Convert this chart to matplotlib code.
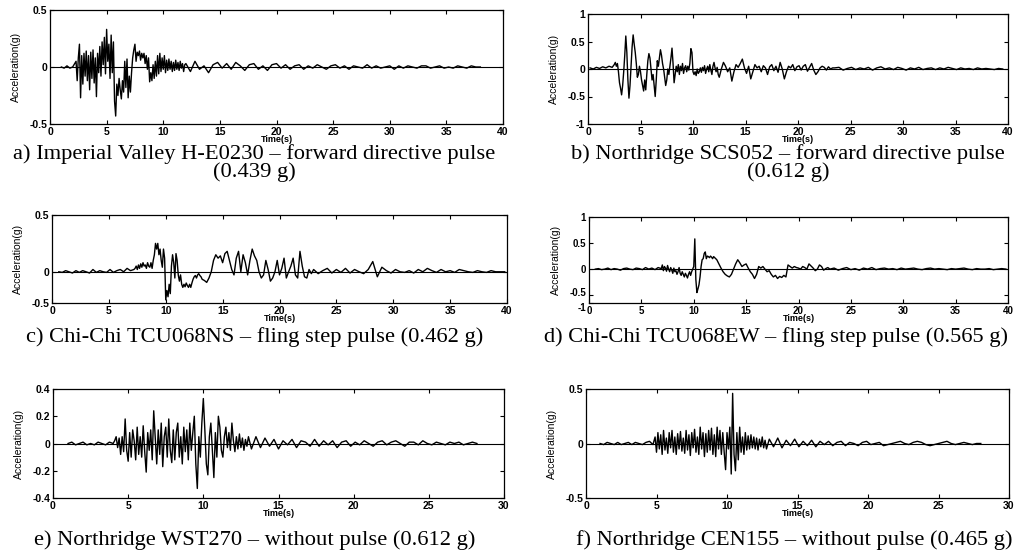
import matplotlib
matplotlib.use("Agg")
import matplotlib.pyplot as plt
import matplotlib.transforms as mtransforms
import numpy as np
from matplotlib.ticker import FuncFormatter

# ---- data read from the reference (acceleration in g), sampled in segments ----
# each record: start times and steps of the segments, then the segment values

# a) Imperial Valley H-E0230
a_t0 = [1.0, 2.3, 12.0]
a_dt = [0.25, 0.1, 0.4]
a_pre = [0.0, -0.01, 0.01, -0.01, 0.0]
a_strong = [0.05, -0.12, 0.08, 0.20, -0.27, 0.10, -0.15, 0.12, -0.08, 0.14,
            -0.12, 0.10, -0.20, 0.13, -0.10, 0.15, -0.14, 0.08, -0.26, 0.12,
            -0.05, 0.18, -0.08, 0.22, 0.02, 0.26, -0.06, 0.33, 0.05, 0.20,
            -0.10, 0.28, -0.05, 0.22, -0.30, -0.43, -0.15, -0.25, -0.10, -0.20,
            -0.28, -0.12, -0.22, 0.05, -0.18, 0.07, -0.27, -0.08, -0.22, -0.05,
            0.08, 0.15, 0.20, 0.05, 0.13, 0.10, 0.14, 0.06, 0.12, 0.08,
            0.12, 0.03, 0.10, -0.02, 0.08, -0.13, -0.05, -0.12, 0.02, -0.10,
            0.05, -0.08, 0.10, -0.06, 0.12, -0.04, 0.08, -0.02, 0.10, -0.05,
            0.06, -0.03, 0.07, -0.02, 0.05, -0.04, 0.04, -0.03, 0.06, -0.02,
            0.04, -0.03, 0.05, -0.01, 0.03, -0.04, 0.02]
a_tail = [0.03, -0.04, 0.05, -0.02, 0.01, -0.05, 0.02, 0.04, -0.01, 0.03,
          -0.02, 0.04, 0.01, -0.03, 0.02, 0.03, -0.02, 0.01, -0.03, 0.02,
          0.03, -0.01, 0.02, -0.02, 0.01, 0.02, -0.02, 0.01, -0.01, 0.02,
          0.00, -0.02, 0.01, 0.02, -0.01, 0.01, -0.02, 0.01, 0.00, -0.01,
          0.02, -0.01, 0.01, -0.01, 0.00, 0.01, -0.02, 0.01, -0.01, 0.01,
          0.00, -0.01, 0.01, 0.01, -0.01, 0.00, 0.01, -0.01, 0.00, -0.01,
          0.01, 0.00, -0.01, 0.01, 0.00, 0.00]

# b) Northridge SCS052
b_t0 = [0.2, 2.5, 12.5, 23.5]
b_dt = [0.3, 0.1, 0.2, 0.4]
b_pre = [0.02, 0.0, 0.03, 0.01, 0.04, 0.02, 0.05, 0.03]
b_strong = [0.08, 0.12, 0.05, 0.10, -0.05, -0.25, -0.35, -0.47, -0.30, -0.05,
            0.25, 0.60, 0.30, -0.20, -0.53, -0.30, 0.05, 0.40, 0.62, 0.45,
            0.30, 0.10, -0.15, -0.10, 0.05, -0.05, -0.20, -0.30, -0.40, -0.20,
            -0.38, -0.10, 0.15, 0.28, 0.20, 0.00, -0.20, -0.10, -0.30, -0.50,
            -0.20, 0.15, 0.05, 0.20, 0.35, 0.25, 0.10, 0.00, -0.15, -0.30,
            -0.20, 0.00, -0.10, 0.05, 0.20, 0.38, 0.10, -0.25, -0.10, 0.05,
            -0.05, 0.08, -0.10, 0.05, -0.03, 0.10, -0.08, 0.02, 0.06, -0.05,
            0.05, -0.02, 0.10, 0.37, 0.30, -0.05, -0.10, -0.05, -0.12, 0.00,
            -0.08, -0.05, 0.02, -0.06, 0.03, -0.03, 0.06, -0.08, 0.00, 0.05,
            -0.05, 0.08, -0.02, -0.10, 0.05, 0.12, 0.02, -0.05, 0.03, -0.10]
b_mid = [-0.15, 0.00, 0.12, 0.05, -0.05, 0.02, -0.22, -0.05, 0.08, 0.03,
         0.10, 0.18, 0.02, -0.08, 0.05, -0.18, -0.05, 0.08, 0.02, 0.05,
         -0.05, 0.06, 0.02, -0.10, 0.04, 0.08, -0.03, 0.05, -0.06, 0.12,
         0.00, -0.18, -0.05, 0.05, 0.02, 0.08, -0.03, 0.04, 0.06, -0.02,
         0.05, 0.08, -0.04, 0.03, 0.10, -0.02, -0.10, -0.05, 0.02, 0.05,
         0.03, -0.02, 0.04, 0.00, 0.02]
b_tail = [0.02, 0.03, -0.02, 0.01, 0.03, -0.01, 0.02, 0.00, 0.03, -0.02,
          0.02, 0.04, 0.00, 0.02, -0.01, 0.03, 0.01, -0.02, 0.02, 0.00,
          0.03, -0.01, 0.01, 0.02, -0.01, 0.02, 0.00, 0.03, 0.01, -0.01,
          0.02, 0.00, 0.01, -0.01, 0.02, 0.00, 0.01, 0.00, -0.01, 0.01, 0.00]

# c) Chi-Chi TCU068NS
c_t0 = [0.6, 7.3, 13.4, 23.0]
c_dt = [0.3, 0.1, 0.2, 0.4]
c_pre = [0.0, -0.01, 0.01, 0.0, -0.02, 0.01, -0.01, 0.01, 0.0, -0.02, 0.02, -0.01,
         0.01, 0.0, -0.01, 0.02, -0.01, 0.01, 0.02, 0.0, 0.03, 0.01, 0.02]
c_strong = [0.03, 0.05, 0.02, 0.06, 0.03, 0.07, 0.04, 0.08, 0.05, 0.06,
            0.03, 0.08, 0.05, 0.04, 0.08, 0.03, 0.10, 0.15, 0.25, 0.20,
            0.25, 0.15, 0.20, 0.10, 0.04, 0.20, 0.12, -0.45, -0.30, -0.40,
            -0.20, -0.35, 0.05, 0.15, 0.08, -0.10, 0.16, 0.10, -0.05, -0.15,
            -0.05, -0.20, -0.25, -0.20, -0.24, -0.18, -0.22, -0.25, -0.20, -0.25,
            -0.18, -0.12, -0.08, -0.06, -0.10, -0.05, -0.03, -0.06, -0.08, -0.12]
c_mid = [-0.14, -0.17, -0.10, 0.00, 0.10, 0.15, 0.12, 0.14, 0.08, 0.16,
         0.18, 0.10, 0.02, -0.05, 0.12, 0.18, 0.00, 0.15, 0.08, -0.05,
         0.10, 0.20, 0.14, 0.10, 0.00, -0.10, -0.05, 0.10, 0.02, -0.15,
         -0.10, 0.00, 0.10, -0.05, 0.03, 0.12, -0.10, 0.00, 0.05, 0.12,
         -0.05, -0.10, 0.18, 0.05, -0.08, -0.10, 0.02, -0.03]
c_tail = [0.02, -0.03, 0.01, 0.03, -0.02, 0.02, -0.01, 0.03, -0.02, 0.02,
          0.00, -0.03, 0.02, 0.09, -0.08, 0.04, 0.01, -0.02, 0.02, 0.00,
          -0.01, 0.01, -0.02, 0.02, 0.00, 0.03, 0.01, -0.01, 0.02, 0.00,
          0.01, -0.01, 0.02, 0.01, 0.00, -0.01, 0.01, 0.00, -0.01, 0.01,
          0.00, 0.00, 0.00]

# d) Chi-Chi TCU068EW
d_t0 = [0.6, 7.0, 12.0, 23.0]
d_dt = [0.3, 0.1, 0.2, 0.4]
d_pre = [0.0, 0.01, -0.01, 0.0, 0.02, -0.01, 0.01, 0.0, -0.02, 0.01, 0.02,
         0.0, -0.01, 0.02, 0.01, -0.01, 0.03, 0.0, 0.02, -0.01, 0.03, 0.01]
d_strong = [0.08, -0.03, 0.05, 0.02, -0.04, 0.07, 0.00, -0.05, 0.03, -0.02,
            -0.08, 0.02, -0.05, -0.03, -0.10, -0.05, 0.03, -0.08, -0.12, -0.05,
            -0.10, -0.15, -0.08, -0.12, -0.17, -0.10, -0.05, -0.12, -0.05, 0.00,
            0.05, 0.58, -0.20, -0.45, -0.38, -0.30, -0.15, 0.05, 0.18, 0.20,
            0.30, 0.33, 0.20, 0.25, 0.24, 0.22, 0.25, 0.23, 0.20, 0.24]
d_mid = [0.22, 0.18, 0.10, 0.02, -0.05, -0.10, -0.13, -0.15, -0.10, 0.00,
         0.10, 0.18, 0.12, 0.05, 0.08, 0.10, 0.02, -0.05, -0.10, -0.18,
         -0.10, 0.05, 0.02, 0.05, 0.00, -0.05, -0.03, -0.10, -0.15, -0.12,
         -0.18, -0.14, -0.16, -0.12, -0.15, 0.08, 0.05, 0.02, 0.05, 0.03,
         0.02, 0.00, 0.05, 0.03, 0.00, 0.10, 0.06, 0.02, -0.03, 0.00,
         0.08, 0.05, -0.02, 0.01, 0.03]
d_tail = [0.00, 0.02, -0.02, 0.01, 0.03, -0.01, 0.01, -0.02, 0.02, 0.00,
          0.03, -0.01, 0.01, 0.02, 0.00, 0.01, -0.01, 0.02, 0.00, 0.01,
          0.02, 0.00, -0.01, 0.01, 0.02, 0.00, 0.01, 0.00, -0.01, 0.01,
          0.00, 0.01, 0.02, 0.00, -0.01, 0.01, 0.00, 0.00, 0.01, -0.01,
          0.00, 0.01, 0.00]

# e) Northridge WST270
e_t0 = [1.0, 4.1, 13.2]
e_dt = [0.25, 0.1, 0.3]
e_pre = [0.0, 0.01, -0.01, 0.0, 0.01, -0.01, 0.0, -0.01, 0.01, 0.0, -0.01, 0.01, 0.0]
e_strong = [0.02, 0.05, -0.03, 0.04, -0.08, 0.05, -0.06, 0.18, -0.05, -0.13,
            0.08, -0.10, 0.10, 0.02, -0.12, 0.12, -0.08, 0.05, -0.10, 0.13,
            -0.06, -0.21, 0.08, -0.05, 0.10, -0.12, 0.24, 0.05, -0.15, 0.10,
            -0.08, 0.15, -0.17, 0.05, 0.12, -0.10, 0.18, -0.05, -0.14, 0.10,
            -0.12, 0.08, 0.15, -0.10, 0.05, -0.15, 0.12, -0.06, 0.10, -0.12,
            0.15, -0.05, 0.08, 0.20, -0.15, -0.33, 0.05, -0.10, 0.15, 0.33,
            0.10, -0.15, -0.23, 0.05, 0.15, -0.05, -0.25, 0.08, -0.10, 0.20,
            0.12, -0.05, -0.10, 0.05, 0.12, -0.03, 0.08, -0.05, 0.15, 0.02,
            -0.06, 0.05, -0.04, 0.07, -0.03, 0.04, -0.05, 0.03, -0.02, 0.05]
e_tail = [-0.04, 0.05, -0.03, 0.04, -0.02, 0.03, -0.04, 0.02, -0.01, 0.03,
          -0.03, 0.02, 0.01, -0.02, 0.03, -0.02, 0.02, -0.01, 0.02, -0.03,
          0.01, 0.02, -0.02, 0.01, -0.01, 0.02, 0.00, -0.02, 0.01, 0.02,
          -0.01, 0.01, 0.02, 0.00, -0.02, 0.01, 0.01, -0.01, 0.02, 0.00,
          -0.01, 0.01, 0.00, -0.01, 0.01, 0.00, 0.01, -0.01, 0.00, 0.01, 0.00]

# f) Northridge CEN155
f_t0 = [1.0, 4.9, 13.0]
f_dt = [0.25, 0.1, 0.3]
f_pre = [0.0, -0.01, 0.01, 0.0, -0.01, 0.01, -0.01, 0.0, 0.01, -0.01, 0.01,
         0.0, -0.01, 0.01, 0.02, -0.01]
f_strong = [0.06, -0.08, 0.10, -0.05, 0.08, -0.10, 0.12, -0.06, 0.05, -0.09,
            0.10, -0.04, 0.12, -0.08, 0.06, -0.10, 0.09, -0.05, 0.11, -0.07,
            0.05, -0.09, 0.12, -0.06, 0.08, -0.11, 0.10, -0.04, 0.13, -0.08,
            0.06, -0.10, 0.15, -0.05, 0.10, -0.12, 0.09, -0.08, 0.12, -0.06,
            0.14, -0.10, 0.08, -0.12, 0.15, -0.05, 0.12, -0.10, 0.10, -0.08,
            -0.24, 0.10, -0.05, 0.15, -0.28, 0.46, -0.10, -0.25, 0.10, -0.15,
            0.15, -0.08, 0.06, -0.10, 0.10, -0.06, 0.07, -0.05, 0.08, -0.04,
            0.06, -0.05, 0.05, -0.06, 0.04, -0.03, 0.06, -0.04, 0.03, -0.05]
f_tail = [0.04, -0.03, 0.05, -0.04, 0.03, -0.02, 0.04, -0.03, 0.02, -0.02,
          0.03, -0.03, 0.02, -0.01, 0.02, -0.02, 0.01, 0.02, -0.02, 0.01,
          0.00, -0.02, 0.01, 0.02, -0.01, 0.00, 0.01, -0.02, -0.01, 0.00,
          0.01, 0.02, 0.00, -0.01, 0.01, 0.02, 0.01, -0.01, -0.02, -0.01,
          0.00, 0.01, 0.02, 0.00, -0.01, 0.00, 0.01, 0.00, -0.01, 0.00, 0.00]

captions = [
    "a) Imperial Valley H-E0230 \u2013 forward directive pulse\n(0.439 g)",
    "b) Northridge SCS052 \u2013 forward directive pulse\n(0.612 g)",
    "c) Chi-Chi TCU068NS \u2013 fling step pulse (0.462 g)",
    "d) Chi-Chi TCU068EW \u2013 fling step pulse (0.565 g)",
    "e) Northridge WST270 \u2013 without pulse (0.612 g)",
    "f) Northridge CEN155 \u2013 without pulse (0.465 g)",
]


def build(t0s, dts, segs):
    t, v = [], []
    for t0, dt, s in zip(t0s, dts, segs):
        t.append(t0 + dt * np.arange(len(s)))
        v.append(np.asarray(s))
    return np.concatenate(t), np.concatenate(v)


records = [
    build(a_t0, a_dt, [a_pre, a_strong, a_tail]),
    build(b_t0, b_dt, [b_pre, b_strong, b_mid, b_tail]),
    build(c_t0, c_dt, [c_pre, c_strong, c_mid, c_tail]),
    build(d_t0, d_dt, [d_pre, d_strong, d_mid, d_tail]),
    build(e_t0, e_dt, [e_pre, e_strong, e_tail]),
    build(f_t0, f_dt, [f_pre, f_strong, f_tail]),
]

# axes boxes in pixels: left, top, right, bottom
W, H = 1035, 559
boxes = [(50, 10, 503, 124), (588, 14, 1008, 124),
         (52, 215, 507, 303), (589, 217, 1008, 303),
         (53, 389, 504, 498), (586, 389, 1009, 498)]
xmax = [40, 40, 40, 40, 30, 30]
ylims = [(-0.5, 0.5), (-1, 1), (-0.5, 0.5), (-1, 1), (-0.4, 0.4), (-0.5, 0.5)]
yticks = [[-0.5, 0, 0.5], [-1, -0.5, 0, 0.5, 1], [-0.5, 0, 0.5],
          [-1, -0.5, 0, 0.5, 1], [-0.4, -0.2, 0, 0.2, 0.4], [-0.5, 0, 0.5]]
cap_xy = [(254, 163), (788, 163), (255, 337), (776, 337), (255, 540), (794, 540)]


# the lower halves of panels c and d are squeezed in the source figure
def squeeze_c(y):
    y = np.asarray(y, float)
    return np.where(y >= 0, y, 0.55 * y)


def unsqueeze_c(y):
    y = np.asarray(y, float)
    return np.where(y >= 0, y, y / 0.55)


def squeeze_d(y):
    y = np.asarray(y, float)
    return np.where(y >= -0.5, y, -0.5 + 0.3 * (y + 0.5))


def unsqueeze_d(y):
    y = np.asarray(y, float)
    return np.where(y >= -0.5, y, -0.5 + (y + 0.5) / 0.3)


scales = [None, None, (squeeze_c, unsqueeze_c), (squeeze_d, unsqueeze_d), None, None]

plt.rcParams['axes.unicode_minus'] = False
tick_font = ['Liberation Sans Narrow', 'Liberation Sans', 'DejaVu Sans']

fig = plt.figure(figsize=(W / 100, H / 100), dpi=100)
fmt = FuncFormatter(lambda v, p: f"{v:g}")

for i, (t, acc) in enumerate(records):
    l, tp, r, b = boxes[i]
    ax = fig.add_axes([l / W, 1 - b / H, (r - l) / W, (b - tp) / H])
    if scales[i] is not None:
        ax.set_yscale('function', functions=scales[i])
    ax.axhline(0, color='black', lw=0.8)
    ax.plot(t, acc, color='black', lw=1.0)
    ax.set_xlim(0, xmax[i])
    ax.set_ylim(*ylims[i])
    ax.set_xticks(np.arange(0, xmax[i] + 1, 5))
    ax.set_yticks(yticks[i])
    ax.xaxis.set_major_formatter(fmt)
    ax.yaxis.set_major_formatter(fmt)
    ax.yaxis.set_minor_locator(plt.NullLocator())
    ax.tick_params(direction='in', top=True, right=True, length=3, width=0.8,
                   labelsize=7 if i == 3 else 7.5, pad=2)
    for lab in ax.get_xticklabels() + ax.get_yticklabels():
        lab.set_family(tick_font)
        lab.set_fontweight('bold')
    if i == 3:
        # bottom two labels sit almost on top of each other in the source
        ylabs = ax.get_yticklabels()
        ylabs[0].set_transform(ylabs[0].get_transform() +
                               mtransforms.ScaledTranslation(0, -3 / 72, fig.dpi_scale_trans))
        ylabs[1].set_transform(ylabs[1].get_transform() +
                               mtransforms.ScaledTranslation(0, 2 / 72, fig.dpi_scale_trans))
    for s in ax.spines.values():
        s.set_linewidth(0.9)
    ax.set_xlabel("Time(s)", family=tick_font, fontweight='bold', fontsize=6.5, labelpad=-1)
    ax.set_ylabel("Acceleration(g)", family=tick_font, fontsize=7.5, labelpad=6)
    cx, cy = cap_xy[i]
    fig.text(cx / W, 1 - cy / H, captions[i], ha='center', va='center',
             family=['Liberation Serif', 'DejaVu Serif'], fontsize=16.2,
             linespacing=0.85)

fig.savefig("out.png", dpi=100)
